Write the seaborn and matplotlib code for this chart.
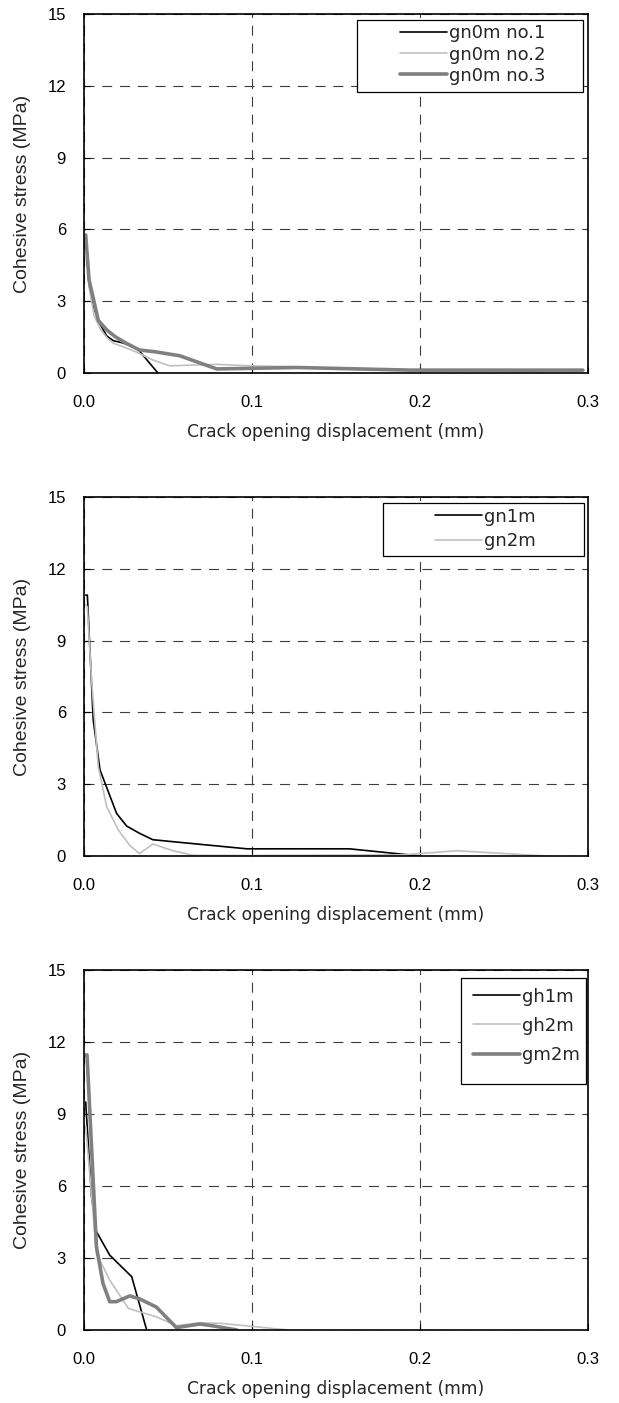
import matplotlib
matplotlib.use("Agg")
import matplotlib.pyplot as plt
from matplotlib.patches import Rectangle
import seaborn as sns
import pandas as pd

# ---------------- data ----------------
# Panel 1
gn0m_no1_x = [0.001, 0.003, 0.006, 0.0095, 0.0135, 0.0175, 0.0235, 0.032, 0.044]
gn0m_no1_y = [5.7, 3.7, 2.7, 2.05, 1.55, 1.35, 1.25, 1.0, 0.0]
gn0m_no2_x = [0.001, 0.003, 0.006, 0.010, 0.014, 0.0175, 0.025, 0.033, 0.040, 0.051, 0.079, 0.10, 0.13, 0.16, 0.20, 0.24, 0.273]
gn0m_no2_y = [5.6, 3.6, 2.4, 1.8, 1.45, 1.24, 1.05, 0.82, 0.57, 0.3, 0.36, 0.3, 0.25, 0.18, 0.1, 0.08, 0.05]
gn0m_no3_x = [0.001, 0.003, 0.0085, 0.0135, 0.0185, 0.025, 0.033, 0.042, 0.057, 0.079, 0.1265, 0.194, 0.297]
gn0m_no3_y = [5.77, 3.89, 2.2, 1.8, 1.52, 1.25, 0.96, 0.89, 0.72, 0.17, 0.23, 0.12, 0.12]

# Panel 2
gn1m_x = [0.001, 0.002, 0.0055, 0.0095, 0.0194, 0.0254, 0.033, 0.041, 0.057, 0.097, 0.158, 0.20]
gn1m_y = [10.9, 10.9, 5.68, 3.6, 1.78, 1.25, 0.95, 0.68, 0.57, 0.3, 0.3, 0.0]
gn2m_x = [0.001, 0.002, 0.0045, 0.0085, 0.0135, 0.0204, 0.0274, 0.033, 0.041, 0.053, 0.065, 0.10, 0.19, 0.222, 0.275]
gn2m_y = [10.5, 10.4, 7.35, 3.73, 2.06, 1.09, 0.43, 0.1, 0.5, 0.22, 0.03, 0.02, 0.05, 0.22, 0.0]

# Panel 3
gh1m_x = [0.001, 0.0045, 0.0074, 0.0153, 0.0284, 0.0373]
gh1m_y = [9.5, 5.55, 4.1, 3.12, 2.22, 0.0]
gh2m_x = [0.001, 0.0074, 0.0153, 0.0264, 0.043, 0.055, 0.069, 0.081, 0.10, 0.122]
gh2m_y = [8.5, 3.2, 2.08, 0.9, 0.55, 0.18, 0.3, 0.28, 0.15, 0.0]
gm2m_x = [0.001, 0.0018, 0.0074, 0.0113, 0.0153, 0.0193, 0.0272, 0.033, 0.043, 0.055, 0.069, 0.077, 0.091]
gm2m_y = [11.46, 11.46, 3.47, 1.94, 1.18, 1.18, 1.42, 1.3, 0.96, 0.1, 0.25, 0.17, 0.0]

x_ticks = [0.0, 0.1, 0.2, 0.3]
x_ticklabels = ["0.0", "0.1", "0.2", "0.3"]
y_ticks = [0, 3, 6, 9, 12, 15]
x_label = "Crack opening displacement (mm)"
y_label = "Cohesive stress (MPa)"

panels = [
    [("gn0m no.1", gn0m_no1_x, gn0m_no1_y, "black"),
     ("gn0m no.2", gn0m_no2_x, gn0m_no2_y, "light"),
     ("gn0m no.3", gn0m_no3_x, gn0m_no3_y, "thick")],
    [("gn1m", gn1m_x, gn1m_y, "black"),
     ("gn2m", gn2m_x, gn2m_y, "light")],
    [("gh1m", gh1m_x, gh1m_y, "black"),
     ("gh2m", gh2m_x, gh2m_y, "light"),
     ("gm2m", gm2m_x, gm2m_y, "thick")],
]

styles = {
    "black": dict(color="#000000", lw=1.2),
    "light": dict(color="#c0c0c0", lw=1.2),
    "thick": dict(color="#808080", lw=2.6),
}

# ---------------- layout ----------------
sns.set_style("ticks")
plt.rcParams["font.family"] = ["Liberation Sans", "DejaVu Sans"]

W, H = 619, 1403
fig = plt.figure(figsize=(W / 100, H / 100), dpi=100)

axes_px = [(14, 373), (497, 856), (970, 1330)]
# legend: (handle start x px, first row top px, labelspacing, box x0, y0, x1, y1 px)
legend_px = [
    (400, 24.5, 0.17, 357, 20, 583, 92),
    (435, 507.5, 0.35, 383, 503, 584, 556),
    (473, 987.5, 0.62, 461, 978, 586, 1084),
]

for i, series in enumerate(panels):
    top, bot = axes_px[i]
    ax = fig.add_axes([84 / W, 1 - bot / H, 504 / W, (bot - top) / H])
    for name, xs, ys, st in series:
        df = pd.DataFrame({"x": xs, "y": ys})
        sns.lineplot(data=df, x="x", y="y", ax=ax, sort=False, estimator=None,
                     label=name, color=styles[st]["color"], lw=styles[st]["lw"])
    ax.set_xlim(0, 0.3)
    ax.set_ylim(0, 15)
    ax.set_xticks(x_ticks)
    ax.set_xticklabels(x_ticklabels)
    ax.set_yticks(y_ticks)
    ax.grid(True, color="#3c3c3c", lw=0.8, linestyle=(0, (9, 7)))
    ax.set_axisbelow(True)
    for sp in ax.spines.values():
        sp.set_color("black")
        sp.set_linewidth(1.2)
        sp.set_zorder(3)
    ax.tick_params(axis="both", direction="in", length=4, width=0.8, labelsize=12,
                   colors="black")
    ax.tick_params(axis="x", pad=16)
    ax.tick_params(axis="y", pad=13)
    ax.set_xlabel(x_label, fontsize=12.3, family=["DejaVu Sans"], va="center")
    ax.xaxis.set_label_coords(0.5, -59 / (bot - top))
    ax.set_ylabel(y_label, fontsize=14, va="center")
    ax.yaxis.set_label_coords((23 - 84) / 504, 0.5)

    hx, ht, lsp, bx0, by0, bx1, by1 = legend_px[i]
    h = bot - top
    rect = Rectangle(((bx0 - 84) / 504, (bot - by1) / h), (bx1 - bx0) / 504, (by1 - by0) / h,
                     transform=ax.transAxes, facecolor="white", edgecolor="black",
                     lw=0.9, zorder=4.5, clip_on=False)
    ax.add_patch(rect)
    leg = ax.legend(loc="upper left", bbox_to_anchor=((hx - 84) / 504, (bot - ht) / h),
                    frameon=False, borderpad=0, borderaxespad=0, handlelength=2.6,
                    handletextpad=0.1, labelspacing=lsp,
                    prop={"family": "DejaVu Sans", "size": 13})
    leg.set_zorder(5)

fig.savefig("out.png", dpi=100)
